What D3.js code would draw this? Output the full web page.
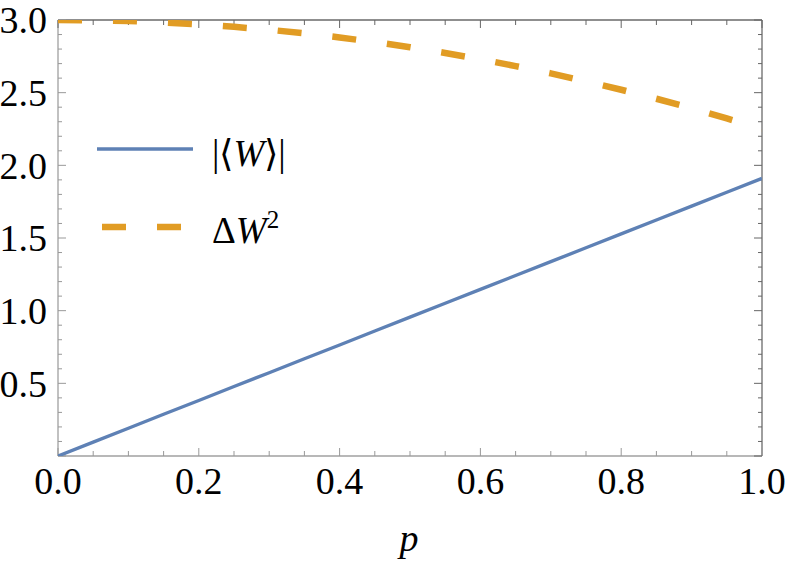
<!DOCTYPE html>
<html>
<head>
<meta charset="utf-8">
<script src="https://cdn.jsdelivr.net/npm/d3@7"></script>
<style>
  body { margin: 0; background: #fff; }
  svg text { font-family: 'Liberation Serif', 'Times New Roman', Times, serif; }
</style>
</head>
<body>
<svg id="chart" width="789" height="564"></svg>
<script>
// data
var pValues = [0, 0.05, 0.1, 0.15, 0.2, 0.25, 0.3, 0.35, 0.4, 0.45, 0.5,
               0.55, 0.6, 0.65, 0.7, 0.75, 0.8, 0.85, 0.9, 0.95, 1.0];
var meanW = [0, 0.096, 0.191, 0.287, 0.382, 0.478, 0.573, 0.669, 0.764, 0.860, 0.955,
             1.051, 1.146, 1.242, 1.337, 1.433, 1.528, 1.624, 1.719, 1.815, 1.91];
var varW = [3.0, 2.998, 2.993, 2.983, 2.97, 2.953, 2.933, 2.908, 2.88, 2.848, 2.813,
            2.773, 2.73, 2.683, 2.633, 2.578, 2.52, 2.458, 2.393, 2.323, 2.25];
var xTicks = [0, 0.2, 0.4, 0.6, 0.8, 1.0];
var yTicks = [0.5, 1.0, 1.5, 2.0, 2.5, 3.0];

var blue = "#5e81b5", orange = "#e19c24";
var svg = d3.select("#chart");
var mLeft = 58, mRight = 762, mTop = 20, mBottom = 456;

var x = d3.scaleLinear().domain([0, 1]).range([mLeft, mRight]);
var y = d3.scaleLinear().domain([0, 3]).range([mBottom, mTop]);

// minor + major ticks
var xMinor = d3.range(0, 1.0001, 0.05);
var yMinor = d3.range(0, 3.0001, 0.1);
function isMajorX(v) { return Math.abs(v * 5 - Math.round(v * 5)) < 1e-6; }
function isMajorY(v) { return Math.abs(v * 2 - Math.round(v * 2)) < 1e-6; }

var frame = svg.append("g");
// bottom and left (lighter)
frame.append("line").attr("x1", mLeft).attr("x2", mRight).attr("y1", mBottom).attr("y2", mBottom)
  .attr("stroke", "#a0a0a0").attr("stroke-width", 1.3);
frame.append("line").attr("x1", mLeft).attr("x2", mLeft).attr("y1", mTop).attr("y2", mBottom)
  .attr("stroke", "#a0a0a0").attr("stroke-width", 1.3);
// top and right
frame.append("line").attr("x1", mLeft).attr("x2", mRight).attr("y1", mTop).attr("y2", mTop)
  .attr("stroke", "#6a6a6a").attr("stroke-width", 1.3);
frame.append("line").attr("x1", mRight).attr("x2", mRight).attr("y1", mTop).attr("y2", mBottom)
  .attr("stroke", "#6a6a6a").attr("stroke-width", 1.3);

xMinor.forEach(function (v) {
  var len = isMajorX(v) ? 8 : 5;
  frame.append("line").attr("x1", x(v)).attr("x2", x(v)).attr("y1", mBottom).attr("y2", mBottom - len)
    .attr("stroke", "#999").attr("stroke-width", 1);
  frame.append("line").attr("x1", x(v)).attr("x2", x(v)).attr("y1", mTop).attr("y2", mTop + len)
    .attr("stroke", "#666").attr("stroke-width", 1);
});
yMinor.forEach(function (v) {
  var len = isMajorY(v) ? 8 : 4;
  frame.append("line").attr("x1", mLeft).attr("x2", mLeft + len).attr("y1", y(v)).attr("y2", y(v))
    .attr("stroke", "#999").attr("stroke-width", 1);
  frame.append("line").attr("x1", mRight).attr("x2", mRight - len).attr("y1", y(v)).attr("y2", y(v))
    .attr("stroke", "#666").attr("stroke-width", 1);
});

// tick labels
svg.append("g").selectAll("text").data(xTicks).enter().append("text")
  .attr("x", function (d) { return x(d); })
  .attr("y", 494)
  .attr("text-anchor", "middle")
  .attr("font-size", 38)
  .text(function (d) { return d3.format(".1f")(d); });

svg.append("g").selectAll("text").data(yTicks).enter().append("text")
  .attr("x", 47)
  .attr("y", function (d) { return y(d); })
  .attr("dy", "0.35em")
  .attr("text-anchor", "end")
  .attr("font-size", 38)
  .text(function (d) { return d3.format(".1f")(d); });

svg.append("text").attr("x", 409).attr("y", 551).attr("text-anchor", "middle")
  .attr("font-size", 38).attr("font-style", "italic").text("p");

// curves
var pts1 = pValues.map(function (p, i) { return [p, meanW[i]]; });
var pts2 = pValues.map(function (p, i) { return [p, varW[i]]; });
var line = d3.line().x(function (d) { return x(d[0]); }).y(function (d) { return y(d[1]); });

svg.append("defs").append("clipPath").attr("id", "clip")
  .append("rect").attr("x", mLeft).attr("y", mTop).attr("width", mRight - mLeft).attr("height", mBottom - mTop);

var plot = svg.append("g").attr("clip-path", "url(#clip)");
plot.append("path").datum(pts1).attr("d", line)
  .attr("fill", "none").attr("stroke", blue).attr("stroke-width", 3.4);
plot.append("path").datum(pts2).attr("d", line)
  .attr("fill", "none").attr("stroke", orange).attr("stroke-width", 6.5)
  .attr("stroke-dasharray", "24,31");

// legend
var lg = svg.append("g");
lg.append("line").attr("x1", 97).attr("x2", 193).attr("y1", 149).attr("y2", 149)
  .attr("stroke", blue).attr("stroke-width", 3.4);
lg.append("line").attr("x1", 102).attr("x2", 181).attr("y1", 227).attr("y2", 227)
  .attr("stroke", orange).attr("stroke-width", 6.5).attr("stroke-dasharray", "24,31");

var t1 = lg.append("text").attr("x", 212).attr("y", 166).attr("font-size", 37);
t1.append("tspan").text("|\u27E8");
t1.append("tspan").attr("font-style", "italic").text("W");
t1.append("tspan").text("\u27E9|");

var t2 = lg.append("text").attr("x", 212).attr("y", 243).attr("font-size", 37);
t2.append("tspan").text("\u0394");
t2.append("tspan").attr("font-style", "italic").text("W");
t2.append("tspan").attr("font-size", 25).attr("dy", -15).text("2");
</script>
</body>
</html>
